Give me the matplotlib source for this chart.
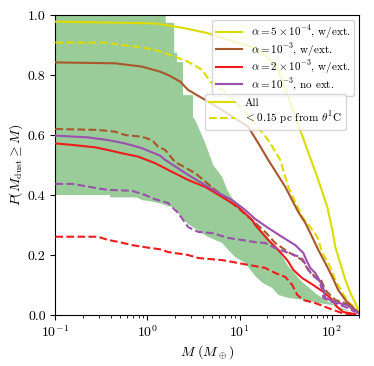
import matplotlib
matplotlib.use("Agg")
import matplotlib.pyplot as plt
from matplotlib.lines import Line2D

plt.rcParams['font.family'] = 'serif'
plt.rcParams['font.serif'] = ['cmr10']
plt.rcParams['mathtext.fontset'] = 'cm'
plt.rcParams['axes.formatter.use_mathtext'] = True
plt.rcParams['axes.unicode_minus'] = False

# ---- data ----
ya_M = [0.1, 1.21, 2.44, 4.45, 8.98, 14.8, 20, 26.4, 33.8, 42.4, 58.7, 71.7, 89.8, 101.8, 109.7, 124, 141, 160, 181, 195, 200]
ya_P = [0.978, 0.972, 0.957, 0.94, 0.91, 0.89, 0.86, 0.817, 0.727, 0.643, 0.523, 0.45, 0.36, 0.283, 0.227, 0.173, 0.117, 0.073, 0.04, 0.017, 0.01]

yb_M = [0.1, 0.347, 0.531, 0.875, 1.306, 2.0, 2.77, 3.93, 4.80, 6.99, 11.53, 20.5, 27.7, 33.8, 48, 58.7, 70, 79.3, 96.8, 109.7, 131, 152, 181, 200]
yb_P = [0.908, 0.908, 0.90, 0.892, 0.881, 0.861, 0.844, 0.817, 0.778, 0.743, 0.677, 0.583, 0.517, 0.427, 0.327, 0.293, 0.26, 0.207, 0.16, 0.117, 0.073, 0.043, 0.023, 0.007]

ba_M = [0.1, 0.446, 0.875, 1.374, 1.679, 2.267, 2.77, 4.24, 6.49, 12.43, 15.97, 20.5, 31.4, 43.5, 51.8, 61.5, 71.7, 85.4, 101.8, 118, 141, 168, 190, 200]
ba_P = [0.842, 0.839, 0.828, 0.811, 0.80, 0.778, 0.75, 0.717, 0.683, 0.627, 0.573, 0.517, 0.427, 0.343, 0.307, 0.26, 0.217, 0.173, 0.127, 0.083, 0.05, 0.027, 0.01, 0.005]

bb_M = [0.1, 0.291, 0.446, 0.572, 0.875, 1.125, 1.306, 1.557, 2.0, 3.30, 5.44, 8.33, 12.43, 14.8, 19.0, 24.4, 33.8, 48, 55.8, 66.5, 75.4, 85.4, 109.7, 141, 181, 200]
bb_P = [0.62, 0.617, 0.611, 0.60, 0.594, 0.583, 0.561, 0.55, 0.51, 0.473, 0.417, 0.373, 0.327, 0.307, 0.277, 0.24, 0.21, 0.183, 0.15, 0.127, 0.123, 0.083, 0.05, 0.04, 0.017, 0.007]

pa_M = [0.1, 0.226, 0.374, 0.572, 0.875, 1.374, 1.557, 2.77, 4.24, 6.49, 8.33, 11.53, 14.8, 20.5, 29.1, 40.3, 49.2, 54.4, 58.7, 66.5, 75.4, 81.3, 85.4, 109.7, 148, 172, 195]
pa_P = [0.598, 0.592, 0.583, 0.572, 0.556, 0.531, 0.517, 0.467, 0.433, 0.40, 0.383, 0.35, 0.32, 0.29, 0.26, 0.233, 0.207, 0.177, 0.157, 0.14, 0.11, 0.09, 0.057, 0.043, 0.033, 0.017, 0.007]

pb_M = [0.1, 0.152, 0.21, 0.291, 0.374, 0.682, 0.944, 1.212, 1.679, 2.156, 2.77, 3.56, 5.05, 7.54, 10.7, 14.8, 19.0, 24.4, 33.8, 45.7, 49.2, 54.4, 61.5, 71.7, 79.3, 81.3, 101.8, 141, 181]
pb_P = [0.437, 0.437, 0.43, 0.422, 0.417, 0.414, 0.40, 0.386, 0.373, 0.34, 0.293, 0.277, 0.273, 0.257, 0.25, 0.243, 0.24, 0.223, 0.207, 0.193, 0.183, 0.157, 0.133, 0.117, 0.083, 0.057, 0.043, 0.027, 0.01]

ra_M = [0.1, 0.152, 0.27, 0.374, 0.531, 0.794, 1.212, 1.856, 2.77, 4.24, 6.49, 9.68, 13.74, 14.8, 20.5, 26.35, 33.0, 38.5, 48, 63.2, 81.3, 96.8, 115, 134, 181]
ra_P = [0.572, 0.567, 0.559, 0.55, 0.539, 0.528, 0.506, 0.477, 0.45, 0.427, 0.393, 0.36, 0.317, 0.30, 0.25, 0.217, 0.183, 0.15, 0.123, 0.10, 0.077, 0.057, 0.027, 0.01, 0.003]

rb_M = [0.1, 0.291, 0.374, 0.48, 0.682, 0.944, 1.374, 1.679, 2.77, 3.56, 6.49, 8.33, 12.43, 14.8, 19.0, 24.4, 31.4, 37.4, 42.4, 49.2, 66.5, 92, 128, 181]
rb_P = [0.261, 0.261, 0.25, 0.244, 0.233, 0.226, 0.219, 0.21, 0.20, 0.19, 0.183, 0.177, 0.167, 0.163, 0.157, 0.14, 0.127, 0.10, 0.067, 0.05, 0.04, 0.023, 0.007, 0.0]

gu_M = [0.1, 1.58, 1.58, 1.95, 1.95, 2.10, 2.10, 2.43, 2.43, 3.12, 3.12, 3.30, 4.24, 5.18, 6.49, 7.35, 8.98, 11.5, 14.8, 20.5, 26.35, 33.8, 48, 66.5, 85.4, 118, 160]
gu_P = [1.0, 1.0, 0.974, 0.974, 0.874, 0.874, 0.843, 0.843, 0.733, 0.733, 0.66, 0.65, 0.573, 0.50, 0.46, 0.417, 0.373, 0.34, 0.31, 0.257, 0.217, 0.163, 0.11, 0.073, 0.05, 0.027, 0.013]

gl_M = [0.1, 0.393, 0.393, 0.773, 0.875, 1.125, 1.374, 1.679, 2.0, 2.267, 2.77, 3.5, 4.57, 6.49, 7.54, 8.98, 11.53, 14.8, 17.8, 22.67, 26.35, 33.8, 51.8, 71.7, 101.8, 128, 160]
gl_P = [0.40, 0.40, 0.392, 0.392, 0.383, 0.378, 0.372, 0.363, 0.357, 0.33, 0.303, 0.283, 0.26, 0.24, 0.217, 0.193, 0.173, 0.13, 0.107, 0.09, 0.067, 0.057, 0.05, 0.04, 0.033, 0.017, 0.013]

labels1 = [r'$\alpha = 5\times10^{-4}$, w/ext.', r'$\alpha = 10^{-3}$, w/ext.',
           r'$\alpha = 2\times10^{-3}$, w/ext.', r'$\alpha = 10^{-3}$, no ext.']
labels2 = ['All', r'$<0.15$ pc from $\theta^1$C']

c_y = '#dcdc00'
c_b = '#a8572a'
c_r = '#ee1c1c'
c_p = '#9b50ad'

fig = plt.figure(figsize=(3.74, 3.66), dpi=100)
ax = fig.add_axes([0.148, 0.1393, 0.8128, 0.8197])

ax.fill(list(gu_M) + list(gl_M[::-1]), list(gu_P) + list(gl_P[::-1]),
        color='#99cc99', lw=0, zorder=1)

lw = 1.5
ax.plot(ya_M, ya_P, color=c_y, lw=lw, zorder=3)
ax.plot(yb_M, yb_P, color=c_y, lw=lw, ls='--', zorder=3)
ax.plot(ba_M, ba_P, color=c_b, lw=lw, zorder=3)
ax.plot(bb_M, bb_P, color=c_b, lw=lw, ls='--', zorder=3)
ax.plot(ra_M, ra_P, color=c_r, lw=lw, zorder=3)
ax.plot(rb_M, rb_P, color=c_r, lw=lw, ls='--', zorder=3)
ax.plot(pa_M, pa_P, color=c_p, lw=lw, zorder=3)
ax.plot(pb_M, pb_P, color=c_p, lw=lw, ls='--', zorder=3)

ax.set_xscale('log')
ax.set_xlim(0.1, 200)
ax.set_ylim(0, 1)
ax.set_yticks([0.0, 0.2, 0.4, 0.6, 0.8, 1.0])
ax.set_yticklabels(['0.0', '0.2', '0.4', '0.6', '0.8', '1.0'])
ax.tick_params(labelsize=10)
ax.set_xlabel(r'$M\ (M_\oplus)$', fontsize=10, labelpad=2)
ax.set_ylabel(r'$P(M_{\rm dust} \geq M)$', fontsize=10, labelpad=2)

h1 = [Line2D([], [], color=c, lw=lw) for c in (c_y, c_b, c_r, c_p)]
leg1 = ax.legend(h1, labels1, loc='upper right', bbox_to_anchor=(0.983, 0.983),
                 borderaxespad=0, fontsize=8, handlelength=2.4,
                 labelspacing=0.0, borderpad=0.3, handletextpad=0.8)
ax.add_artist(leg1)
h2 = [Line2D([], [], color=c_y, lw=lw), Line2D([], [], color=c_y, lw=lw, ls='--')]
leg2 = ax.legend(h2, labels2, loc='upper right', bbox_to_anchor=(0.955, 0.737),
                 borderaxespad=0, fontsize=8, handlelength=2.4,
                 labelspacing=0.2, borderpad=0.35, handletextpad=0.8)

fig.savefig('out.png', dpi=100)
